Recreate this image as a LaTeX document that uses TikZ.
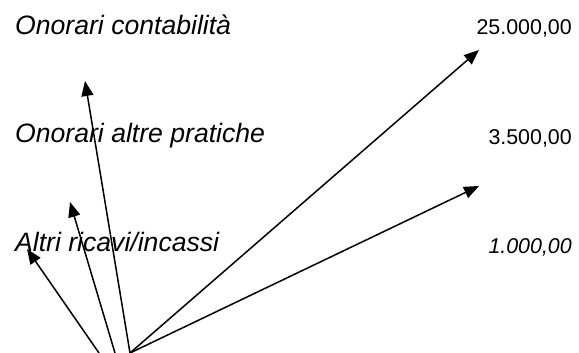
\documentclass[tikz,border=0pt]{standalone}
\usepackage{fontspec}
\setmainfont{Liberation Sans}
\usetikzlibrary{arrows.meta}
\tikzset{
  lbl/.style={inner sep=0pt, font=\fontsize{26.6}{30}\selectfont\itshape},
  num/.style={inner sep=0pt, font=\fontsize{21.4}{25}\selectfont},
  numit/.style={inner sep=0pt, font=\fontsize{21.4}{25}\selectfont\itshape},
  arr/.style={line width=1.5pt, -{Triangle[length=15pt,width=12pt]}}
}
\begin{document}
\begin{tikzpicture}[x=1pt,y=-1pt]
\useasboundingbox (0,0) rectangle (579,353);
\node[lbl, anchor=base west] (l1) at (15,34.5) {Onorari contabilità};
\node[lbl, anchor=base west] (l2) at (15,142.5) {Onorari altre pratiche};
\node[lbl, anchor=base west] (l3) at (15,251.5) {Altri ricavi/incassi};
\node[num, anchor=base east] (n1) at (572,35) {25.000,00};
\node[num, anchor=base east] (n2) at (572,145) {3.500,00};
\node[numit, anchor=base east] (n3) at (572,253) {1.000,00};
\coordinate (o1) at (99,353);
\coordinate (o2) at (115,353);
\coordinate (o3) at (130,353);
\coordinate (t1) at (27,249);
\coordinate (t2) at (70,202);
\coordinate (t3) at (85,81);
\coordinate (t4) at (479,50);
\coordinate (t5) at (479,186);
\draw[arr] (o1) -- (t1);
\draw[arr] (o2) -- (t2);
\draw[arr] (o3) -- (t3);
\draw[arr] (o3) -- (t4);
\draw[arr] (o3) -- (t5);
\end{tikzpicture}
\end{document}
